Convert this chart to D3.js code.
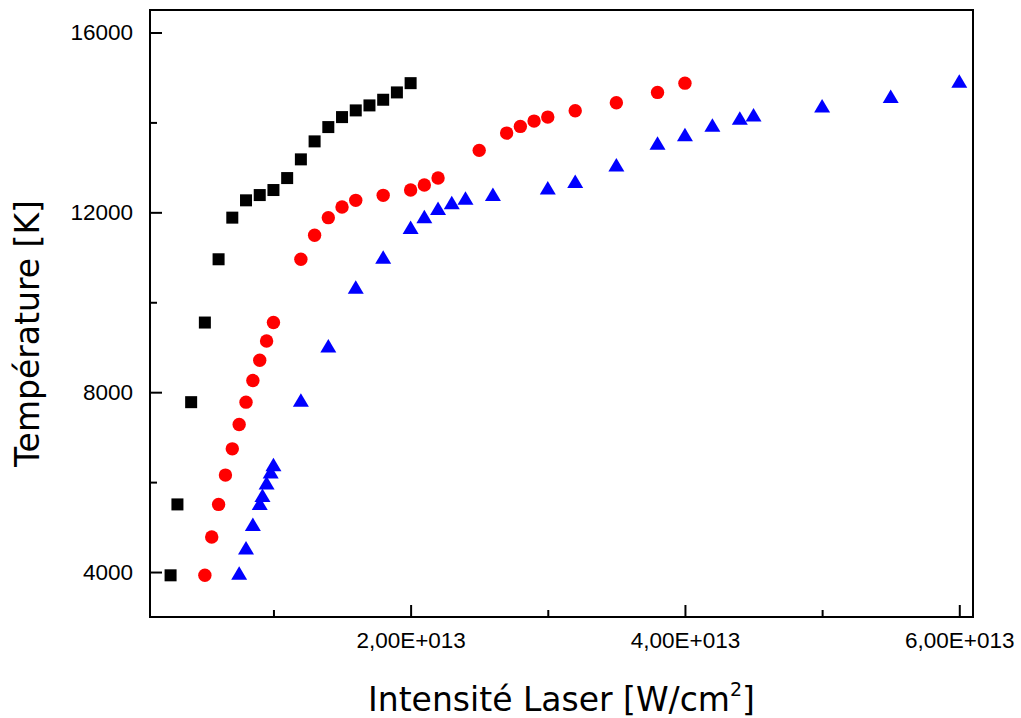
<!DOCTYPE html>
<html>
<head>
<meta charset="utf-8">
<script src="https://cdn.jsdelivr.net/npm/d3@7"></script>
<style>
  html, body { margin: 0; padding: 0; background: #fff; }
  svg { display: block; }
</style>
</head>
<body>
<svg id="chart" width="1021" height="718"></svg>
<script>
// ---- data (x in W/cm², y in K) ----
const squareX = [0.25e13, 0.3e13, 0.4e13, 0.5e13, 0.6e13, 0.7e13, 0.8e13, 0.9e13, 1.0e13, 1.1e13, 1.2e13, 1.3e13, 1.4e13, 1.5e13, 1.6e13, 1.7e13, 1.8e13, 1.9e13, 2.0e13];
const squareY = [3927, 5504, 7778, 9549, 10956, 11882, 12267, 12384, 12496, 12762, 13178, 13578, 13896, 14118, 14267, 14378, 14504, 14667, 14873];

const circleX = [0.5e13, 0.55e13, 0.6e13, 0.65e13, 0.7e13, 0.75e13, 0.8e13, 0.85e13, 0.9e13, 0.95e13, 1.0e13, 1.2e13, 1.3e13, 1.4e13, 1.5e13, 1.6e13, 1.8e13, 2.0e13, 2.1e13, 2.2e13, 2.5e13, 2.7e13, 2.8e13, 2.9e13, 3.0e13, 3.2e13, 3.5e13, 3.8e13, 4.0e13];
const circleY = [3927, 4778, 5504, 6156, 6740, 7282, 7778, 8260, 8711, 9140, 9549, 10956, 11489, 11882, 12118, 12267, 12378, 12496, 12607, 12762, 13378, 13762, 13911, 14029, 14118, 14260, 14438, 14667, 14873];

const triangleX = [0.75e13, 0.8e13, 0.85e13, 0.9e13, 0.92e13, 0.95e13, 0.98e13, 1.0e13, 1.2e13, 1.4e13, 1.6e13, 1.8e13, 2.0e13, 2.1e13, 2.2e13, 2.3e13, 2.4e13, 2.6e13, 3.0e13, 3.2e13, 3.5e13, 3.8e13, 4.0e13, 4.2e13, 4.4e13, 4.5e13, 5.0e13, 5.5e13, 6.0e13];
const triangleY = [3927, 4490, 5010, 5480, 5660, 5934, 6180, 6343, 7778, 8980, 10290, 10956, 11620, 11860, 12040, 12166, 12267, 12350, 12496, 12640, 13010, 13490, 13683, 13890, 14046, 14118, 14321, 14534, 14873];

const xMajorTicks = [2e13, 4e13, 6e13];
const xMajorLabels = ["2,00E+013", "4,00E+013", "6,00E+013"];
const xMinorTicks = [1e13, 3e13, 5e13];
const yMajorTicks = [4000, 8000, 12000, 16000];
const yMajorLabels = ["4000", "8000", "12000", "16000"];
const yMinorTicks = [6000, 10000, 14000];

const xTitle = "Intensité Laser [W/cm";
const xTitleSup = "2";
const xTitleEnd = "]";
const yTitle = "Température [K]";

// ---- layout ----
const svg = d3.select("#chart");
const pLeft = 150, pRight = 973, pTop = 10, pBottom = 617;

const x = d3.scaleLinear().domain([1e12, 6.1e13]).range([pLeft, pRight]);
const y = d3.scaleLinear().domain([3000, 16500]).range([pBottom, pTop]);

// frame
svg.append("rect")
  .attr("x", pLeft).attr("y", pTop)
  .attr("width", pRight - pLeft).attr("height", pBottom - pTop)
  .attr("fill", "none").attr("stroke", "#000").attr("stroke-width", 2);

// x axis minor
const gxMin = svg.append("g").attr("transform", `translate(0,${pBottom})`)
  .call(d3.axisBottom(x).tickValues(xMinorTicks).tickSize(-7).tickFormat(""));
// x axis major
const gxMaj = svg.append("g").attr("transform", `translate(0,${pBottom})`)
  .call(d3.axisBottom(x).tickValues(xMajorTicks).tickSize(-12)
    .tickFormat((d, i) => xMajorLabels[i]));
// y axis minor
const gyMin = svg.append("g").attr("transform", `translate(${pLeft},0)`)
  .call(d3.axisLeft(y).tickValues(yMinorTicks).tickSize(-7).tickFormat(""));
// y axis major
const gyMaj = svg.append("g").attr("transform", `translate(${pLeft},0)`)
  .call(d3.axisLeft(y).tickValues(yMajorTicks).tickSize(-12)
    .tickFormat((d, i) => yMajorLabels[i]));

[gxMin, gxMaj, gyMin, gyMaj].forEach(g => {
  g.select(".domain").remove();
  g.selectAll(".tick line").attr("stroke", "#000").attr("stroke-width", 2);
});
gxMaj.selectAll(".tick text")
  .attr("y", 31).attr("dy", 0)
  .attr("font-family", "'Liberation Sans', Arial, sans-serif")
  .attr("font-size", 22.5).attr("fill", "#000");
gyMaj.selectAll(".tick text")
  .attr("x", -17).attr("dy", 7)
  .attr("font-family", "'Liberation Sans', Arial, sans-serif")
  .attr("font-size", 22.5).attr("fill", "#000");

// axis titles
const xt = svg.append("text")
  .attr("x", (pLeft + pRight) / 2).attr("y", 711)
  .attr("text-anchor", "middle")
  .attr("font-family", "'DejaVu Sans', Verdana, sans-serif")
  .attr("font-size", 33).attr("fill", "#000");
xt.append("tspan").text(xTitle);
xt.append("tspan").attr("font-size", 19).attr("dy", -15).text(xTitleSup);
xt.append("tspan").attr("dy", 15).text(xTitleEnd);

svg.append("text")
  .attr("transform", `translate(39,${(pTop + pBottom) / 2 + 20}) rotate(-90)`)
  .attr("text-anchor", "middle")
  .attr("font-family", "'DejaVu Sans', Verdana, sans-serif")
  .attr("font-size", 33).attr("fill", "#000")
  .text(yTitle);

// markers
const sq = 12;
svg.append("g").selectAll("rect").data(d3.range(squareX.length)).join("rect")
  .attr("x", i => x(squareX[i]) - sq / 2)
  .attr("y", i => y(squareY[i]) - sq / 2)
  .attr("width", sq).attr("height", sq)
  .attr("fill", "#000");

svg.append("g").selectAll("circle").data(d3.range(circleX.length)).join("circle")
  .attr("cx", i => x(circleX[i]))
  .attr("cy", i => y(circleY[i]))
  .attr("r", 6.7)
  .attr("fill", "#ff0000");

// triangle centred on centroid, width 16, height 13.5
const triPath = "M0,-9 L8,4.5 L-8,4.5 Z";
svg.append("g").selectAll("path").data(d3.range(triangleX.length)).join("path")
  .attr("d", triPath)
  .attr("transform", i => `translate(${x(triangleX[i])},${y(triangleY[i])})`)
  .attr("fill", "#0000ff");
</script>
</body>
</html>
